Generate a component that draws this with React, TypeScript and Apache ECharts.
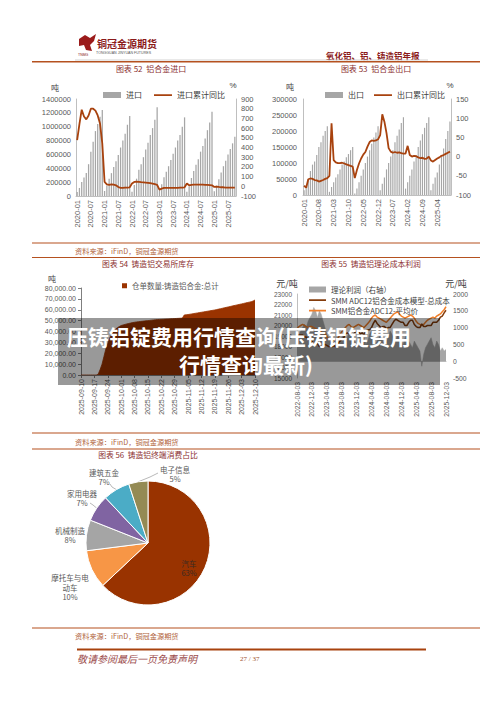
import React, { useEffect, useRef } from "react";
import * as echarts from "echarts";

const FONT = '"Liberation Sans", "Noto Sans CJK SC", sans-serif';
const CJK = '"Noto Sans CJK SC", "Liberation Sans", sans-serif';

// ---------- 图表 52 铝合金进口 (2020-01 起, 月度累计) ----------
const imports52 = [
  58000, 116000, 203000, 266000, 333000, 459000, 638000, 783000, 937000, 1039000, 1145000, 1241000,
  72000, 150000, 250000, 330000, 420000, 500000, 590000, 700000, 800000, 900000, 1030000, 1155000,
  60000, 160000, 250000, 380000, 460000, 560000, 670000, 770000, 880000, 980000, 1100000, 1280000,
  90000, 170000, 270000, 350000, 430000, 520000, 610000, 700000, 800000, 880000, 1000000, 1135000,
  60000, 140000, 260000, 360000, 450000, 530000, 640000, 720000, 830000, 950000, 1060000, 1217000,
  70000, 150000, 240000, 340000, 430000, 510000, 600000, 680000, 760000, 855000,
];
const importYoY52 = [
  476, 640, 790, 720, 690, 730, 800, 800, 780, 730, 648, 441,
  45, 21, 14, 21, 17, 10, -7, -17, -17, -14, -14, -10,
  28, 45, 48, 45, 42, 40, 38, 35, 32, 28, 22, 15,
  -34, -24, -17, -17, -17, -17, -17, -17, -17, -14, -14, -10,
  28, 10, 14, 17, 17, 18, 18, 17, 15, 14, 12, 10,
  -7, -3, -7, -10, -10, -14, -14, -14, -14, -14,
];

// ---------- 图表 53 铝合金出口 ----------
const exports53 = [
  15000, 30000, 50000, 75000, 95000, 105000, 125000, 150000, 165000, 185000, 200000, 215000,
  10000, 25000, 40000, 55000, 65000, 80000, 95000, 105000, 118000, 128000, 140000, 150000,
  5000, 20000, 40000, 60000, 80000, 100000, 120000, 140000, 160000, 180000, 195000, 215000,
  15000, 35000, 55000, 80000, 100000, 120000, 140000, 165000, 185000, 205000, 225000, 243000,
  20000, 40000, 60000, 80000, 105000, 125000, 150000, 170000, 190000, 210000, 225000, 243000,
  15000, 35000, 55000, 70000, 95000, 120000, 145000, 175000, 200000, 230000,
];
const exportYoY53 = [
  -76, -81, -59, -57, -58, -61, -62, -65, -63, -61, -58, -56,
  -50, 87, -9, -15, -17, -17, -16, -18, -20, -22, -24, -26,
  -56, -35, -18, -5, 5, 12, 26, 38, 42, 41, 42, 45,
  56, 110, 91, 61, 22, 13, 10, 12, 10, 11, 9, 8,
  8, 28, 4, 0, 2, 1, -2, -4, -3, -6, -5, 0,
  -10, -13, -9, -5, -2, 2, 4, 7, 10, 13,
];

// ---------- 图表 54 铸造铝交易所库存 (2025-09-10 起, 日度) ----------
const stock54 = [
  0, 0, 0, 0, 0, 0, 0, 0, 0,
  800, 5000, 10000, 17000, 24000, 29000, 34000, 37000, 40000, 42000, 43500, 44500,
  45500, 46000, 46500, 47000, 47400, 47800, 48200, 48500, 48800, 49000, 49200, 49400, 49600, 49800, 50000, 50200,
  50400, 50600, 50800, 51000, 51100, 51200, 51300, 51400, 51500, 51600, 51700, 51800, 51900, 52000, 52100,
  52200, 52300, 55200, 55400, 55600, 55900, 56200, 56500, 56800, 57100, 57400, 57700, 58000, 58300, 58600,
  58900, 59200, 59500, 59800, 60200, 60600, 61000, 61400, 61800, 62200, 62600, 63000, 63400, 63800, 64200,
  64600, 65000, 65400, 65800, 66200, 66600, 67000, 67400, 68000, 69000,
];

// ---------- 图表 55 铸造铝理论成本利润 (2022-08-03 起, 半月) ----------
const price55 = [
  19700, 19900, 20000, 20100, 20000, 19900, 19800, 19900,
  19900, 19800, 19700, 19600, 19500, 19400, 19300, 19200,
  18900, 18700, 18600, 18500, 18700, 18600, 18800, 19100,
  19400, 19600, 19800, 20000, 20100, 19900, 19800, 19900,
  20000, 20100, 20000, 19900, 19800, 20000, 20200, 20400,
  20700, 20900, 21000, 20800, 20700, 20600, 20500, 20400,
  20300, 20500, 20700, 20900, 21100, 21200, 21300, 21100,
  20900, 20800, 20700, 20800, 20900, 21000, 20900, 20700,
  20400, 20200, 20100, 20000, 20100, 20300, 20500, 20600,
  20700, 20800, 20700, 20900, 21000, 21100, 21300, 21500,
  21800,
];
const cost55 = [
  19000, 19100, 19100, 19100, 18900, 18900, 18600, 18600,
  18500, 18200, 18200, 18300, 18000, 18000, 18100, 18200,
  18100, 18000, 18000, 18000, 18100, 17900, 18300, 18500,
  18700, 18800, 19200, 19300, 19200, 19100, 19100, 19300,
  19500, 19400, 19200, 19300, 19100, 19500, 19600, 19600,
  19800, 20200, 20500, 20200, 20000, 19800, 19900, 19900,
  19700, 19800, 19800, 20100, 20400, 20600, 20500, 20400,
  20300, 20300, 20000, 20000, 20300, 20500, 20500, 20100,
  19900, 19800, 19800, 20150, 19900, 19900, 20000, 20000,
  20000, 20300, 20300, 20300, 20500, 20800, 20900, 21200,
  21450,
];
const profit55 = [
  700, 800, 900, 1000, 1100, 1000, 1200, 1300,
  1400, 1600, 1500, 1300, 1500, 1400, 1200, 1000,
  800, 700, 600, 500, 600, 700, 500, 600,
  700, 800, 600, 700, 900, 800, 700, 600,
  500, 700, 800, 600, 700, 500, 600, 800,
  900, 700, 500, 600, 700, 800, 600, 500,
  600, 700, 900, 800, 700, 600, 800, 700,
  600, 500, 700, 800, 600, 500, 400, 600,
  500, 400, 300, -150, 200, 400, 500, 600,
  700, 500, 400, 600, 500, 300, 400, 300,
  350,
];

// ---------- 图表 56 铸造铝终端消费占比 ----------
const pieNames = ["汽车", "摩托车与电动车", "机械制造", "家用电器", "建筑五金", "电子信息"];
const pieValues = [63, 10, 8, 7, 7, 5];
const pieColors = ["#993300", "#F79646", "#A5A5A5", "#8064A2", "#4BACC6", "#948A54"];

// ---------- categories ----------
function monthCats(startY: number, startM: number, n: number) {
  const out: string[] = [];
  for (let k = 0; k < n; k++) {
    const t = startM - 1 + k;
    out.push(`${startY + Math.floor(t / 12)}-${String((t % 12) + 1).padStart(2, "0")}`);
  }
  return out;
}
function dayCats(y: number, m: number, d: number, n: number) {
  const out: string[] = [];
  for (let k = 0; k < n; k++) {
    const dt = new Date(Date.UTC(y, m - 1, d + k));
    out.push(
      `${dt.getUTCFullYear()}-${String(dt.getUTCMonth() + 1).padStart(2, "0")}-${String(dt.getUTCDate()).padStart(2, "0")}`
    );
  }
  return out;
}
function halfMonthCats(startY: number, startM: number, n: number) {
  const out: string[] = [];
  for (let k = 0; k < n; k++) {
    const t = startM - 1 + Math.floor(k / 2);
    out.push(`${startY + Math.floor(t / 12)}-${String((t % 12) + 1).padStart(2, "0")}-${k % 2 === 0 ? "03" : "18"}`);
  }
  return out;
}
const months52 = monthCats(2020, 1, imports52.length);
const months53 = monthCats(2020, 1, exports53.length);
const days54 = dayCats(2025, 9, 10, stock54.length);
const dates55 = halfMonthCats(2022, 8, price55.length);

// ---------- layout helpers ----------
const RUST = "#B5511F";
const TITLE = "#8B2F2F";
const LBL = "#595959";
// thin horizontal stroke used as legend icon for line series
const LINE_ICON = "path://M0,0h1v0.01h-1z M0,2.2h18v1.8h-18z M0,6h1v0.01h-1z";

function hline(x1: number, x2: number, y: number, color: string, w: number) {
  return { type: "line", silent: true, z: 60, shape: { x1, y1: y, x2, y2: y }, style: { stroke: color, lineWidth: w } };
}
function text(x: number, y: number, t: string, o: any = {}) {
  return {
    type: "text",
    silent: true,
    z: o.z ?? 60,
    x,
    y,
    style: {
      text: t,
      fill: o.fill ?? LBL,
      fontSize: o.fontSize ?? 8,
      fontFamily: o.fontFamily ?? CJK,
      fontWeight: o.fontWeight ?? "normal",
      fontStyle: o.fontStyle ?? "normal",
      align: o.align ?? "left",
      verticalAlign: "middle",
      lineHeight: o.lineHeight,
    },
  };
}

const pieLabelAt: any[] = [
  { x: 189, y: 568 },
  { x: 70, y: 587 },
  { x: 70, y: 535 },
  { x: 82, y: 498, line: [[93, 505], [90, 503]] },
  { x: 104, y: 477, line: [[112, 487], [110, 484]] },
  { x: 175, y: 474, line: [[150, 477], [158, 473]] },
];

function wrap(s: string, n: number) {
  const parts: string[] = [];
  for (let i = 0; i < s.length; i += n) parts.push(s.slice(i, i + n));
  return parts.join("\n");
}

const plain = (v: number) => String(v);

function axisLbl(size: number, extra: any = {}) {
  return { color: LBL, fontSize: size, fontFamily: FONT, formatter: plain, ...extra };
}

function buildOption(): any {
  const grayAxis = { show: true, lineStyle: { color: "#BFBFBF", width: 1 } };
  return {
    animation: false,
    backgroundColor: "#ffffff",
    textStyle: { fontFamily: FONT },
    grid: [
      { left: 76, top: 99, width: 160, height: 97 },
      { left: 303, top: 99, width: 148, height: 96 },
      { left: 81, top: 288, width: 174, height: 87 },
      { left: 297, top: 294, width: 149, height: 84 },
    ],
    legend: [
      {
        left: 103, top: 91, padding: 0, itemWidth: 18, itemHeight: 6, itemGap: 12,
        textStyle: { fontSize: 8, color: "#404040", fontFamily: CJK },
        data: [
          { name: "进口", icon: "rect" },
          { name: "进口累计同比", icon: LINE_ICON },
        ],
      },
      {
        left: 325, top: 91, padding: 0, itemWidth: 18, itemHeight: 6, itemGap: 10,
        textStyle: { fontSize: 8, color: "#404040", fontFamily: CJK },
        data: [
          { name: "出口", icon: "rect" },
          { name: "出口累计同比", icon: LINE_ICON },
        ],
      },
      {
        left: 122, top: 282, padding: 0, itemWidth: 5, itemHeight: 5,
        textStyle: { fontSize: 7.5, color: "#595959", fontFamily: CJK },
        data: [{ name: "仓单数量:铸造铝合金:总计", icon: "rect" }],
      },
      {
        left: 309, top: 285, padding: 0, orient: "vertical", itemWidth: 17, itemHeight: 6, itemGap: 1.5,
        textStyle: { fontSize: 7.5, color: "#404040", fontFamily: CJK, lineHeight: 9 },
        data: [
          { name: "理论利润（右轴）", icon: "rect" },
          { name: "SMM ADC12铝合金成本模型-总成本", icon: LINE_ICON },
          { name: "SMM铝合金ADC12-平均价", icon: LINE_ICON },
        ],
      },
    ],
    xAxis: [
      {
        type: "category", gridIndex: 0, data: months52, axisLine: grayAxis, axisTick: { show: false },
        axisLabel: { color: LBL, fontSize: 7.5, fontFamily: FONT, rotate: 90, interval: 5, margin: 4 },
      },
      {
        type: "category", gridIndex: 1, data: months53, axisLine: grayAxis, axisTick: { show: false },
        axisLabel: { color: LBL, fontSize: 7.5, fontFamily: FONT, rotate: 90, interval: 6, margin: 4 },
      },
      {
        type: "category", gridIndex: 2, data: days54, boundaryGap: false,
        axisLine: { show: true, lineStyle: { color: "#7F7F7F" } },
        axisTick: { show: true, interval: 6, length: 3, lineStyle: { color: "#7F7F7F" } },
        axisLabel: { color: LBL, fontSize: 7, fontFamily: FONT, rotate: 90, interval: 6, margin: 4 },
      },
      {
        type: "category", gridIndex: 3, data: dates55, boundaryGap: false, axisLine: grayAxis,
        axisTick: { show: false },
        axisLabel: { color: LBL, fontSize: 6.8, fontFamily: FONT, rotate: 90, interval: 7, margin: 4 },
      },
    ],
    yAxis: [
      {
        type: "value", gridIndex: 0, min: 0, max: 1400000, interval: 200000, axisLine: grayAxis,
        axisTick: { show: false }, splitLine: { show: false }, axisLabel: axisLbl(7.5, { margin: 5 }),
      },
      {
        type: "value", gridIndex: 0, position: "right", min: -100, max: 900, interval: 100, axisLine: grayAxis,
        axisTick: { show: false }, splitLine: { show: false }, axisLabel: axisLbl(7.5, { margin: 5 }),
      },
      {
        type: "value", gridIndex: 1, min: 0, max: 300000, interval: 50000, axisLine: grayAxis,
        axisTick: { show: false }, splitLine: { show: false }, axisLabel: axisLbl(7.5, { margin: 6 }),
      },
      {
        type: "value", gridIndex: 1, position: "right", min: -100, max: 150, interval: 50, axisLine: grayAxis,
        axisTick: { show: false }, splitLine: { show: false }, axisLabel: axisLbl(7.5, { margin: 5 }),
      },
      {
        type: "value", gridIndex: 2, min: 0, max: 80000, interval: 10000,
        axisLine: { show: true, lineStyle: { color: "#7F7F7F" } },
        axisTick: { show: true, length: 3, lineStyle: { color: "#7F7F7F" } },
        splitLine: { show: false },
        axisLabel: axisLbl(7, {
          margin: 5,
          formatter: (v: number) => v.toLocaleString("en-US", { minimumFractionDigits: 2, maximumFractionDigits: 2 }),
        }),
      },
      {
        type: "value", gridIndex: 3, min: 15000, max: 23000, interval: 1000, axisLine: grayAxis,
        axisTick: { show: false }, splitLine: { show: false }, axisLabel: axisLbl(6.5, { margin: 5 }),
      },
      {
        type: "value", gridIndex: 3, position: "right", min: -500, max: 2000, interval: 500,
        axisLine: { show: false }, axisTick: { show: false }, splitLine: { show: false },
        axisLabel: axisLbl(6.8, { margin: 7 }),
      },
    ],
    series: [
      {
        name: "进口", type: "bar", xAxisIndex: 0, yAxisIndex: 0, data: imports52, barWidth: "55%",
        itemStyle: { color: "#A6A6A6" },
      },
      {
        name: "进口累计同比", type: "line", xAxisIndex: 0, yAxisIndex: 1, data: importYoY52, symbol: "none",
        lineStyle: { color: "#A8420E", width: 1.8 }, itemStyle: { color: "#A8420E" },
      },
      {
        name: "出口", type: "bar", xAxisIndex: 1, yAxisIndex: 2, data: exports53, barWidth: "55%",
        itemStyle: { color: "#A6A6A6" },
      },
      {
        name: "出口累计同比", type: "line", xAxisIndex: 1, yAxisIndex: 3, data: exportYoY53, symbol: "none",
        lineStyle: { color: "#A8420E", width: 1.8 }, itemStyle: { color: "#A8420E" },
      },
      {
        name: "仓单数量:铸造铝合金:总计", type: "line", xAxisIndex: 2, yAxisIndex: 4, data: stock54, symbol: "none",
        lineStyle: { color: "#9A3300", width: 0.8 }, itemStyle: { color: "#9A3300" },
        areaStyle: { color: "#9A3300", opacity: 1 },
      },
      {
        name: "理论利润（右轴）", type: "line", xAxisIndex: 3, yAxisIndex: 6, data: profit55, symbol: "none", z: 1,
        lineStyle: { color: "#A6A6A6", width: 0.5 }, itemStyle: { color: "#A6A6A6" },
        areaStyle: { color: "#A6A6A6", opacity: 1 },
      },
      {
        name: "SMM ADC12铝合金成本模型-总成本", type: "line", xAxisIndex: 3, yAxisIndex: 5, data: cost55,
        symbol: "none", z: 3, lineStyle: { color: "#843C0C", width: 1.5 }, itemStyle: { color: "#843C0C" },
      },
      {
        name: "SMM铝合金ADC12-平均价", type: "line", xAxisIndex: 3, yAxisIndex: 5, data: price55,
        symbol: "none", z: 2, lineStyle: { color: "#F07F2A", width: 1.5 }, itemStyle: { color: "#F07F2A" },
      },
      {
        type: "pie", center: [148, 543], radius: 62, startAngle: 90, clockwise: true,
        itemStyle: { borderColor: "#ffffff", borderWidth: 1 },
        label: {
          show: true, fontSize: 7.5, color: LBL, fontFamily: CJK, lineHeight: 9.5,
          formatter: (p: any) => `${wrap(p.name, 5)}\n${p.value}%`,
        },
        labelLine: { show: true, length: 6, length2: 6, lineStyle: { color: "#A6A6A6", width: 0.8 } },
        labelLayout: (params: any) => {
          const p = pieLabelAt[params.dataIndex];
          const res: any = { x: p.x, y: p.y, align: "center", verticalAlign: "middle" };
          if (p.line && params.labelLinePoints) {
            res.labelLinePoints = [params.labelLinePoints[0], p.line[0], p.line[1]];
          }
          return res;
        },
        data: pieNames.map((n, i) => ({
          name: n,
          value: pieValues[i],
          itemStyle: { color: pieColors[i] },
          ...(pieLabelAt[i].line ? {} : { labelLine: { show: false } }),
          ...(i === 0 ? { label: { color: "#3a2a20" } } : {}),
        })),
      },
    ],
    graphic: [
      // header
      {
        type: "polygon", silent: true, z: 60,
        shape: { points: [[79, 39], [85, 35], [90, 38], [96, 34], [94, 41], [90, 45], [92, 51], [86, 50], [84, 45], [79, 46]] },
        style: { fill: "#9B1B1B" },
      },
      text(78, 55, "TNMG", { fontSize: 3.5, fill: "#8B1A1A", fontFamily: FONT }),
      text(97, 43, "铜冠金源期货", { fontSize: 10, fill: "#8B1A1A", fontWeight: "bold" }),
      text(96, 52.5, "TONGGUAN JINYUAN FUTURES", { fontSize: 3.6, fill: "#555555", fontFamily: FONT }),
      text(326, 55, "氧化铝、铝、铸造铝年报", { fontSize: 8.5, fill: "#8B1A1A", fontWeight: "bold" }),
      hline(75, 428, 60, "#C8C8C8", 0.8),
      hline(32, 480, 61.8, RUST, 1.4),
      // titles
      text(151, 68, "图表 52  铝合金进口", { fontSize: 8, fill: TITLE, align: "center" }),
      text(376, 68, "图表 53  铝合金出口", { fontSize: 8, fill: TITLE, align: "center" }),
      text(148, 263.5, "图表 54  铸造铝交易所库存", { fontSize: 7.8, fill: TITLE, align: "center" }),
      text(371, 263.5, "图表 55  铸造铝理论成本利润", { fontSize: 7.8, fill: TITLE, align: "center" }),
      text(148, 454.5, "图表 56  铸造铝终端消费占比", { fontSize: 7.8, fill: TITLE, align: "center" }),
      // axis units
      text(55, 87, "吨", { fontSize: 8, fill: "#404040", align: "center" }),
      text(233, 85, "%", { fontSize: 8, fill: "#404040", align: "center", fontFamily: FONT }),
      text(290, 86, "吨", { fontSize: 8, fill: "#404040", align: "center" }),
      text(450, 85, "%", { fontSize: 8, fill: "#404040", align: "center", fontFamily: FONT }),
      text(52, 278, "吨", { fontSize: 8, fill: "#404040", align: "center" }),
      text(287, 283, "元/吨", { fontSize: 9, fill: "#404040", align: "center" }),
      text(456, 283, "元/吨", { fontSize: 9, fill: "#404040", align: "center" }),
      // rules and sources
      hline(32, 480, 243, RUST, 1.2),
      text(75, 250.5, "资料来源：iFinD，铜冠金源期货", { fontSize: 7.2, fill: "#B0623A" }),
      hline(32, 480, 257.5, RUST, 1.2),
      hline(32, 480, 433, RUST, 1.2),
      text(75, 441.5, "资料来源：iFinD，铜冠金源期货", { fontSize: 7.2, fill: "#B0623A" }),
      hline(32, 480, 449, RUST, 1.2),
      hline(32, 480, 628, RUST, 1.2),
      text(75, 636, "资料来源：iFinD，铜冠金源期货", { fontSize: 7.2, fill: "#B0623A" }),
      hline(77, 426, 649.5, "#A8420E", 2),
      text(77, 658.5, "敬请参阅最后一页免责声明", { fontSize: 10, fill: "#9B4B4B", fontStyle: "italic" }),
      text(240, 658.5, "27 / 37", { fontSize: 7, fill: "#A0522D", fontFamily: "Liberation Serif" }),
      // overlay banner
      {
        type: "rect", silent: true, z: 100,
        shape: { x: 58, y: 318, width: 382, height: 67 },
        style: { fill: "rgba(0,0,0,0.4)" },
      },
      text(239, 336, "压铸铝锭费用行情查询(压铸铝锭费用", { fontSize: 21, fill: "#ffffff", fontWeight: "bold", align: "center", z: 101 }),
      text(246, 364, "行情查询最新)", { fontSize: 21, fill: "#ffffff", fontWeight: "bold", align: "center", z: 101 }),
    ],
  };
}

export default function App() {
  const ref = useRef<HTMLDivElement>(null);
  useEffect(() => {
    if (!ref.current) return;
    const chart = echarts.init(ref.current, null, { renderer: "svg" });
    chart.setOption(buildOption());
    return () => chart.dispose();
  }, []);
  return (
    <div
      ref={ref}
      style={{ position: "absolute", left: 0, top: 0, width: 500, height: 706, background: "#ffffff" }}
    />
  );
}
